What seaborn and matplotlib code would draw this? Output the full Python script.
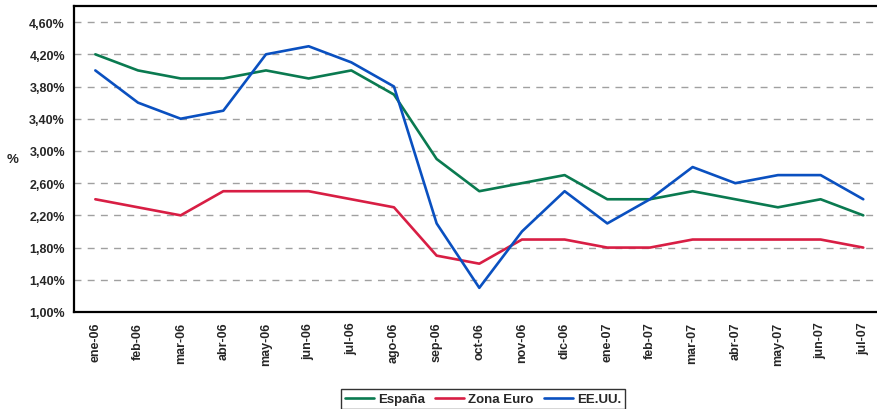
import numpy as np
import pandas as pd
import seaborn as sns
import matplotlib.pyplot as plt
from matplotlib.ticker import FuncFormatter

months = ["ene-06", "feb-06", "mar-06", "abr-06", "may-06", "jun-06", "jul-06",
          "ago-06", "sep-06", "oct-06", "nov-06", "dic-06", "ene-07", "feb-07",
          "mar-07", "abr-07", "may-07", "jun-07", "jul-07"]
espana = [4.2, 4.0, 3.9, 3.9, 4.0, 3.9, 4.0, 3.7, 2.9, 2.5, 2.6, 2.7, 2.4, 2.4,
          2.5, 2.4, 2.3, 2.4, 2.2]
zona_euro = [2.4, 2.3, 2.2, 2.5, 2.5, 2.5, 2.4, 2.3, 1.7, 1.6, 1.9, 1.9, 1.8, 1.8,
             1.9, 1.9, 1.9, 1.9, 1.8]
eeuu = [4.0, 3.6, 3.4, 3.5, 4.2, 4.3, 4.1, 3.8, 2.1, 1.3, 2.0, 2.5, 2.1, 2.4,
        2.8, 2.6, 2.7, 2.7, 2.4]
series_names = ["España", "Zona Euro", "EE.UU."]
colors = ["#0a7a50", "#d81e44", "#0a50c0"]
y_ticks = [1.0, 1.4, 1.8, 2.2, 2.6, 3.0, 3.4, 3.8, 4.2, 4.6]

df = pd.DataFrame({
    "mes": months * 3,
    "valor": espana + zona_euro + eeuu,
    "serie": [s for s in series_names for _ in months],
})

sns.set_style("white")
plt.rcParams["font.family"] = ["Liberation Sans", "DejaVu Sans"]

fig = plt.figure(figsize=(8.77, 4.10), dpi=100)
ax = fig.add_axes([74 / 877, 97 / 410, 810.6 / 877, 306 / 410])

sns.lineplot(data=df, x="mes", y="valor", hue="serie", hue_order=series_names,
             palette=colors, linewidth=1.9, sort=False, ax=ax, legend=False)

ax.set_xlim(-0.5, len(months) - 0.5)
ax.set_ylim(1.0, 4.8)
ax.set_yticks(y_ticks)
ax.yaxis.set_major_formatter(FuncFormatter(lambda v, p: ("%.2f%%" % v).replace(".", ",")))
for t in y_ticks[1:]:
    ax.axhline(t, color="#a0a0a0", linewidth=1.0, linestyle=(0, (5, 4.5)), zorder=0)

ax.set_xticks(np.arange(len(months)))
ax.set_xticklabels(months, rotation=90, fontsize=9, fontweight="bold")
ax.set_xticks(np.arange(-0.5, len(months)), minor=True)
ax.tick_params(axis="x", which="major", length=0, pad=7)
ax.tick_params(axis="x", which="minor", length=4, width=1, color="black", direction="out")
ax.tick_params(axis="y", length=3, width=1, color="black", direction="out", labelsize=9)
for lbl in ax.get_yticklabels():
    lbl.set_fontweight("bold")

ax.set_xlabel("")
ax.set_ylabel("%", fontsize=9.5, fontweight="bold", rotation=0, va="center", labelpad=12)
for side in ["left", "bottom", "top", "right"]:
    ax.spines[side].set_visible(True)
    ax.spines[side].set_color("black")
    ax.spines[side].set_linewidth(1.6)

handles = [plt.Line2D([], [], color=c, linewidth=1.9) for c in colors]
fig.legend(handles, series_names, loc="upper center", bbox_to_anchor=(483 / 877, 1 - 390 / 410),
           ncol=3, frameon=True, fancybox=False, edgecolor="black", handlelength=2.2,
           handletextpad=0.3, columnspacing=0.8, borderpad=0.3, borderaxespad=0,
           prop={"weight": "bold", "size": 9.5})

fig.savefig("out.png", dpi=100)
